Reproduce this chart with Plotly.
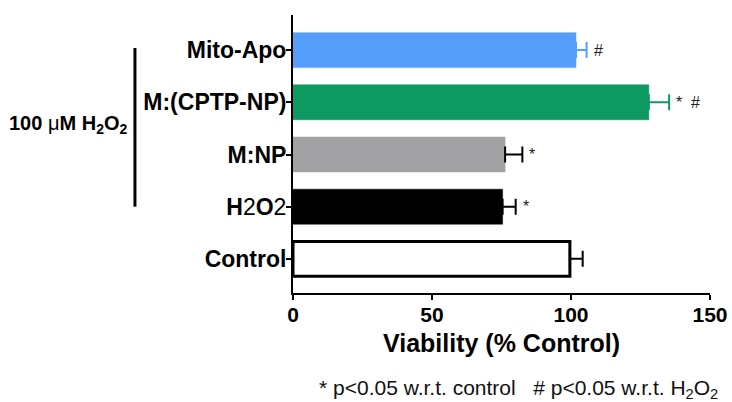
import plotly.graph_objects as go

categories = ["Control", "H2O2", "M:NP", "M:(CPTP-NP)", "Mito-Apo"]
tick_labels = ["<b>Control</b>", "<b>H</b>2<b>O</b>2", "<b>M:NP</b>", "<b>M:(CPTP-NP)</b>", "<b>Mito-Apo</b>"]
viability = [99.6, 75.4, 76.3, 128.0, 101.8]
sem = [4.6, 4.7, 6.2, 7.3, 3.8]
fill_colors = ["#FFFFFF", "#000000", "#A2A2A5", "#0E9962", "#559FFB"]
line_colors = ["#000000", "#000000", "#A2A2A5", "#0E9962", "#559FFB"]
err_colors = ["#000000", "#000000", "#000000", "#0E9962", "#559FFB"]
sig_marks = ["", "*", "*", "*  #", "#"]
x_ticks = [0, 50, 100, 150]

fig = go.Figure()
for i, cat in enumerate(categories):
    fig.add_trace(go.Bar(
        y=[i], x=[viability[i]], orientation="h", width=0.67,
        marker=dict(color=fill_colors[i],
                    line=dict(color=line_colors[i], width=3 if i == 0 else 0.5)),
        error_x=dict(type="data", array=[sem[i]], arrayminus=[0], symmetric=False,
                     color=err_colors[i], thickness=2, width=8),
        showlegend=False, hoverinfo="skip",
    ))
    if sig_marks[i]:
        fig.add_annotation(x=viability[i] + sem[i], y=i, text=sig_marks[i],
                           xanchor="left", xshift=5, yshift=0, showarrow=False,
                           font=dict(size=16, color="#222", family="Liberation Sans, Arial"))

fig.update_layout(
    width=732, height=402,
    margin=dict(l=293, r=22, t=15, b=109, autoexpand=False),
    plot_bgcolor="white", paper_bgcolor="white",
    barmode="overlay",
    font=dict(family="Liberation Sans, Arial", color="#000"),
    xaxis=dict(range=[0, 150], tickvals=x_ticks, ticktext=[f"<b>{v}</b>" for v in x_ticks],
               showgrid=False, zeroline=False, showline=True, linecolor="black", linewidth=2,
               ticks="outside", ticklen=5, tickwidth=2, tickcolor="black",
               tickfont=dict(size=21), automargin=False, ticklabelstandoff=-3,
               title=dict(text="<b>Viability (% Control)</b>", font=dict(size=25), standoff=9)),
    yaxis=dict(range=[-0.654, 4.673], tickvals=list(range(len(categories))), ticktext=tick_labels,
               showgrid=False, zeroline=False, showline=True, linecolor="black", linewidth=2,
               ticks="outside", ticklen=5, tickwidth=2, tickcolor="black",
               tickfont=dict(size=23), automargin=False, ticklabelstandoff=-5),
)

# bracket for H2O2-treated groups
fig.add_shape(type="line", xref="paper", yref="y", x0=-0.379, x1=-0.379, y0=1.0, y1=4.04,
              line=dict(color="black", width=3))
fig.add_annotation(xref="paper", yref="y", x=-0.39, y=2.57, xanchor="right",
                   text="<b>100 </b>μ<b>M H<sub>2</sub>O<sub>2</sub></b>", showarrow=False,
                   font=dict(size=20))
fig.add_annotation(xref="paper", yref="paper", x=0.54, y=-0.345, yanchor="middle",
                   text="* p<0.05 w.r.t. control   # p<0.05 w.r.t. H<sub>2</sub>O<sub>2</sub>",
                   showarrow=False, font=dict(size=21, color="#111"))

fig.write_html("out.html", post_script="document.body.style.margin='0';",
               config={"displayModeBar": False})
